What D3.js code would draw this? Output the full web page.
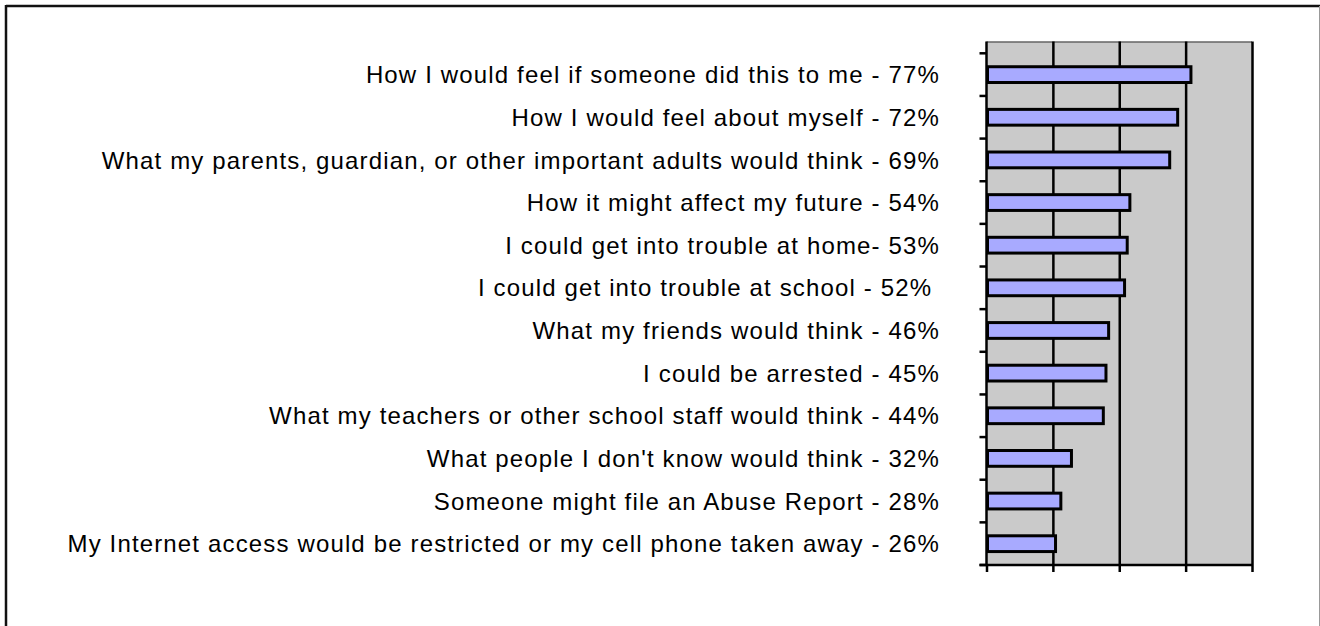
<!DOCTYPE html>
<html>
<head>
<meta charset="utf-8">
<script src="https://cdn.jsdelivr.net/npm/d3@7/dist/d3.min.js"></script>
<style>
  html, body { margin: 0; padding: 0; background: #fff; }
  svg { display: block; }
  text { font-family: "Liberation Sans", Arial, Helvetica, sans-serif; }
</style>
</head>
<body>
<svg id="chart" width="1320" height="626"></svg>
<script>
// Survey responses: what would stop a student from doing this
const categories = [
  "How I would feel if someone did this to me - 77%",
  "How I would feel about myself - 72%",
  "What my parents, guardian, or other important adults would think - 69%",
  "How it might affect my future - 54%",
  "I could get into trouble at home- 53%",
  "I could get into trouble at school - 52% ",
  "What my friends would think - 46%",
  "I could be arrested - 45%",
  "What my teachers or other school staff would think - 44%",
  "What people I don't know would think - 32%",
  "Someone might file an Abuse Report - 28%",
  "My Internet access would be restricted or my cell phone taken away - 26%"
];
const values = [0.77, 0.72, 0.69, 0.54, 0.53, 0.52, 0.46, 0.45, 0.44, 0.32, 0.28, 0.26];
const xTicks = [0, 0.25, 0.5, 0.75, 1];

const svg = d3.select("#chart");

// outer frame
svg.append("line").attr("x1", 6).attr("x2", 1320).attr("y1", 6).attr("y2", 6)
  .attr("stroke", "#111").attr("stroke-width", 2.5);
svg.append("line").attr("x1", 6).attr("x2", 6).attr("y1", 5).attr("y2", 626)
  .attr("stroke", "#111").attr("stroke-width", 2.5);
svg.append("line").attr("x1", 1319.5).attr("x2", 1319.5).attr("y1", 6).attr("y2", 626)
  .attr("stroke", "#999").attr("stroke-width", 1);

const plot = { left: 986.5, right: 1252, top: 41.5, bandTop: 53.3, bottom: 565 };

const x = d3.scaleLinear().domain([0, 1]).range([plot.left, plot.right]);
const y = d3.scaleBand().domain(categories)
  .range([plot.bandTop, plot.bottom])
  .paddingInner(0.63).paddingOuter(0.315);

// plot area background
svg.append("rect")
  .attr("x", plot.left).attr("y", plot.top)
  .attr("width", plot.right - plot.left).attr("height", plot.bottom - plot.top)
  .attr("fill", "#cacaca");
svg.append("line")
  .attr("x1", plot.left).attr("x2", plot.right)
  .attr("y1", plot.top + 0.5).attr("y2", plot.top + 0.5)
  .attr("stroke", "#333").attr("stroke-width", 1);

// vertical gridlines
const grid = svg.append("g").attr("transform", `translate(0,${plot.bottom})`)
  .call(d3.axisBottom(x).tickValues(xTicks.slice(1)).tickSize(-(plot.bottom - plot.top)).tickFormat(""));
grid.select(".domain").remove();
grid.selectAll(".tick line").attr("stroke", "#000").attr("stroke-width", 2.5);

// bars
svg.append("g").selectAll("rect")
  .data(values)
  .join("rect")
  .attr("x", x(0) + 1)
  .attr("y", (d, i) => y(categories[i]))
  .attr("width", d => x(d) - x(0) - 1)
  .attr("height", y.bandwidth())
  .attr("fill", "#a8aaff")
  .attr("stroke", "#000")
  .attr("stroke-width", 3);

// category axis (ticks between bands)
const step = y.step();
const boundaries = categories.map(c => y(c) - (step - y.bandwidth()) / 2)
  .concat([plot.bottom]);
svg.append("line")
  .attr("x1", plot.left).attr("x2", plot.left)
  .attr("y1", plot.top).attr("y2", plot.bottom + 1)
  .attr("stroke", "#000").attr("stroke-width", 2.5);
svg.append("g").selectAll("line")
  .data(boundaries)
  .join("line")
  .attr("x1", plot.left - 7).attr("x2", plot.left)
  .attr("y1", d => d).attr("y2", d => d)
  .attr("stroke", "#000").attr("stroke-width", 2.5);

// value axis
const xAxis = svg.append("g").attr("transform", `translate(0,${plot.bottom})`)
  .call(d3.axisBottom(x).tickValues(xTicks).tickSize(7).tickSizeOuter(0).tickFormat(""));
xAxis.select(".domain").attr("stroke", "#000").attr("stroke-width", 2.5)
  .attr("d", `M${plot.left - 7},0H${plot.right}`);
xAxis.selectAll(".tick line").attr("stroke", "#000").attr("stroke-width", 2.5);

// category labels
svg.append("g").selectAll("text")
  .data(categories)
  .join("text")
  .attr("x", 940)
  .attr("y", c => y(c) + y.bandwidth() / 2)
  .attr("dy", "0.36em")
  .attr("text-anchor", "end")
  .attr("font-size", 24)
  .attr("letter-spacing", 1.15)
  .attr("fill", "#000")
  .attr("xml:space", "preserve")
  .style("white-space", "pre")
  .text(c => c);
</script>
</body>
</html>
